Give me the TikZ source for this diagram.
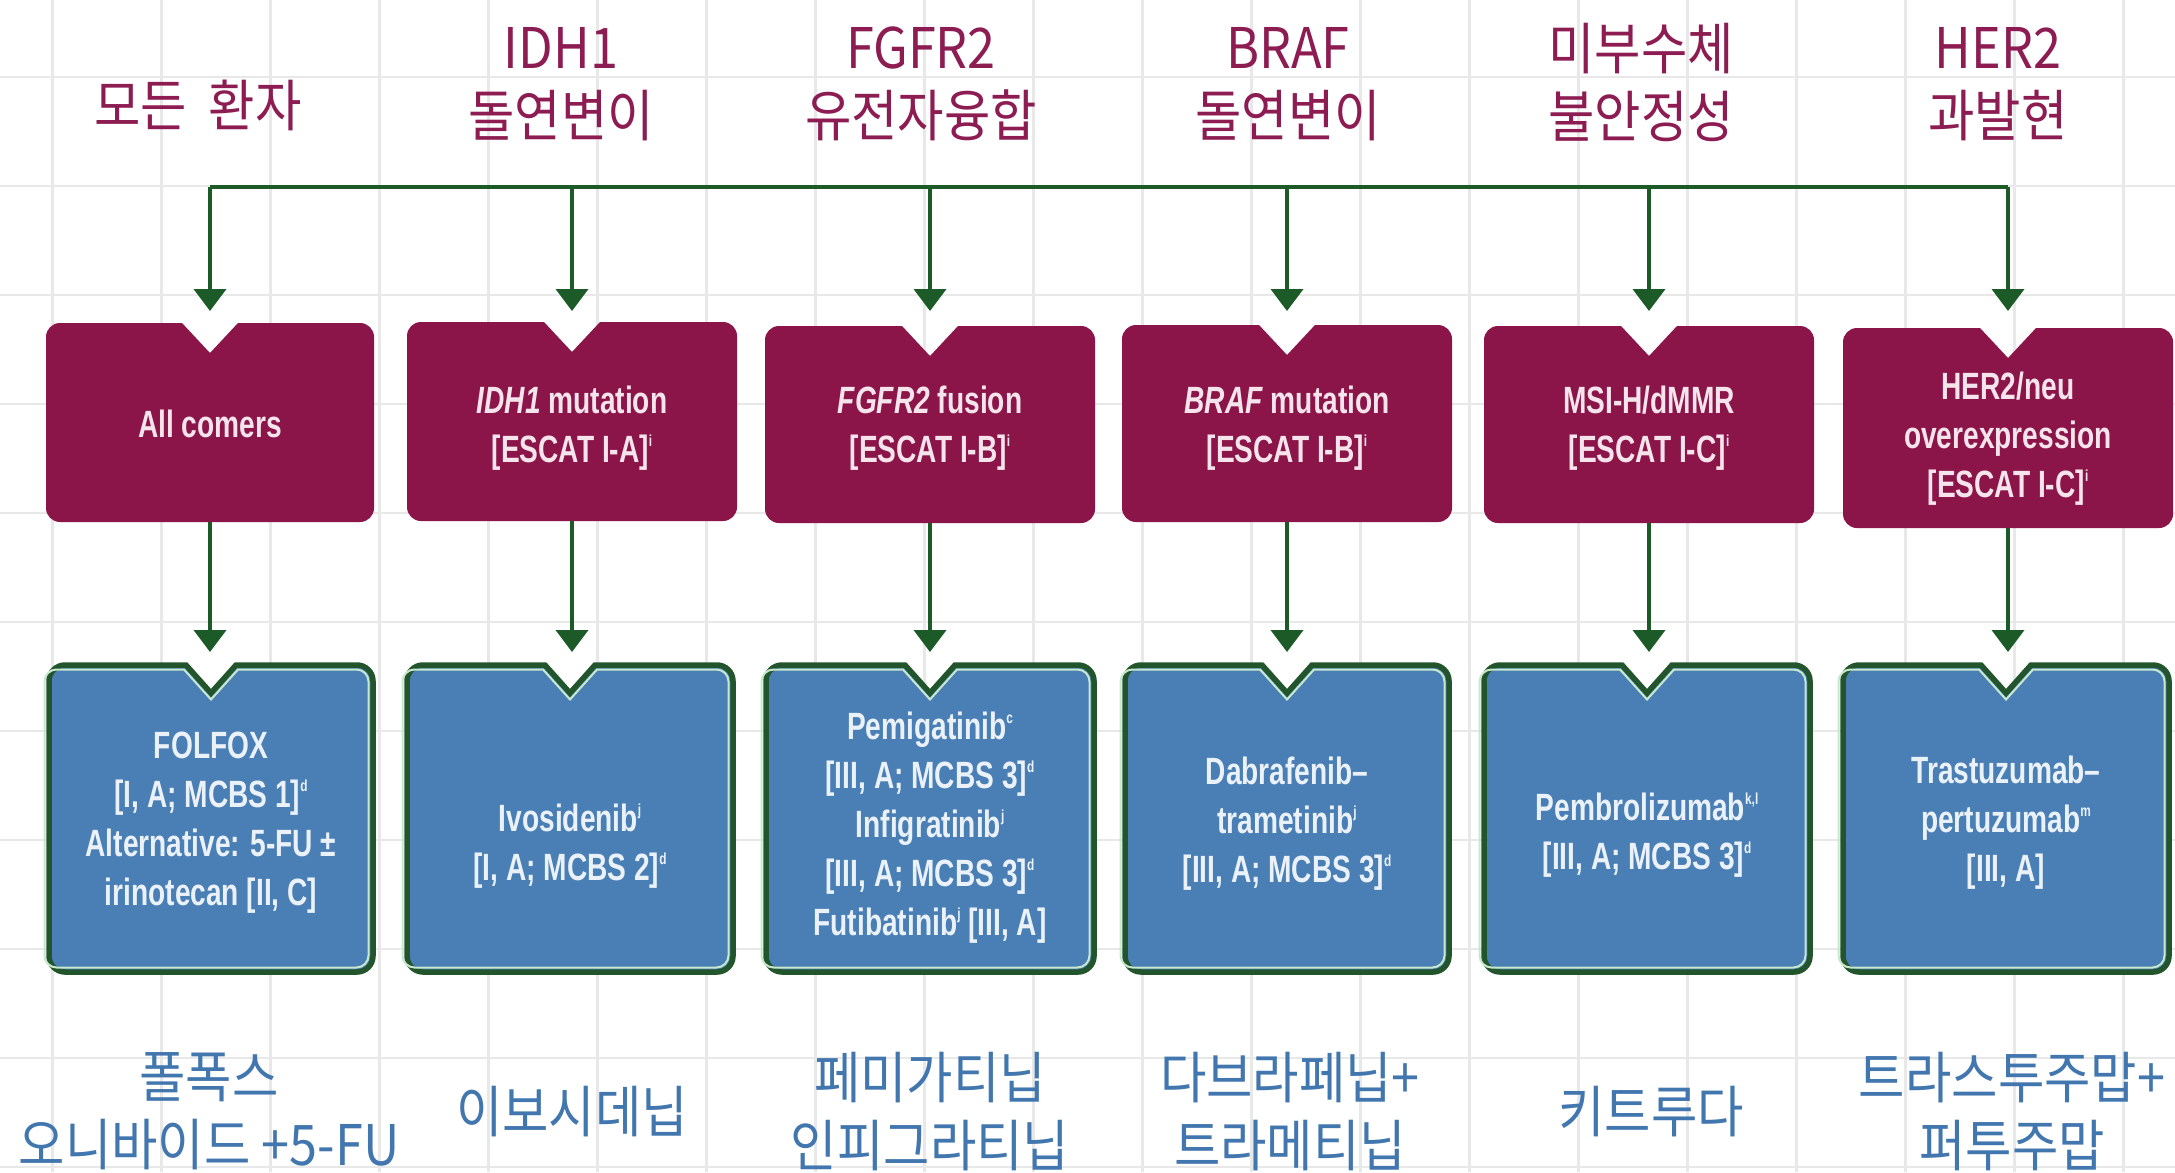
\documentclass[tikz,border=0pt]{standalone}
\usepackage{fontspec}
\setmainfont{Liberation Sans}
\newfontfamily\boxfont[FakeStretch=0.74]{Liberation Sans}
\newfontfamily\krfont[FakeStretch=0.9]{Noto Sans CJK KR}
\usetikzlibrary{arrows.meta}
\definecolor{maroonbox}{RGB}{139,20,72}
\definecolor{bluebox}{RGB}{74,127,181}
\definecolor{bborder}{RGB}{35,85,45}
\definecolor{blight}{RGB}{200,232,205}
\definecolor{conng}{RGB}{28,90,40}
\definecolor{gridc}{RGB}{232,232,232}
\definecolor{toplabc}{RGB}{140,28,82}
\definecolor{botlabc}{RGB}{66,118,174}
\definecolor{mtextc}{RGB}{245,228,236}
\definecolor{btextc}{RGB}{234,241,249}
\newcommand\supx[1]{\raisebox{0.42em}{\fontsize{16}{16}\selectfont #1}}
% #1 options, #2 cx, #3 top, #4 half width, #5 height, #6 notch half width, #7 notch depth, #8 corner radius
\newcommand\notchshape[8][]{%
  \path[#1] ({#2+#6},{-(#3)}) -- ({#2+#4-#8},{-(#3)})
    arc[start angle=90,end angle=0,radius=#8pt]
    -- ({#2+#4},{-(#3+#5-#8)})
    arc[start angle=0,end angle=-90,radius=#8pt]
    -- ({#2-#4+#8},{-(#3+#5)})
    arc[start angle=270,end angle=180,radius=#8pt]
    -- ({#2-#4},{-(#3+#8)})
    arc[start angle=180,end angle=90,radius=#8pt]
    -- ({#2-#6},{-(#3)}) -- ({#2},{-(#3+#7)}) -- cycle;}
\newcommand\bluebox[2]{% cx, half width
  \notchshape[fill=bluebox,draw=bborder,line width=5.5pt]{#1}{665}{#2}{307}{25}{28}{16}
  \notchshape[draw=blight,line width=2pt]{#1}{669.5}{#2-4.5}{298}{27}{30}{12}}
\begin{document}
\begin{tikzpicture}[x=1pt,y=1pt,
  gridline/.style={draw=gridc,line width=2.5pt},
  conn/.style={draw=conng,line width=4pt},
  arr/.style={conn,-{Triangle[width=32pt,length=22pt]}},
  mtext/.style={text=mtextc,inner sep=0pt,align=center,font=\boxfont\bfseries\fontsize{38}{49}\selectfont},
  btext/.style={text=btextc,inner sep=0pt,align=center,font=\boxfont\bfseries\fontsize{38}{49}\selectfont},
  toplab/.style={text=toplabc,inner sep=0pt,align=center,font=\krfont\fontsize{56}{68}\selectfont},
  botlab/.style={text=botlabc,inner sep=0pt,align=center,font=\krfont\fontsize{56}{68}\selectfont}]
\useasboundingbox (0,0) rectangle (2175,-1172);
\fill[white] (0,0) rectangle (2175,-1172);
% background grid
\foreach \i in {0,...,19} {\draw[gridline] ({52.6+109*\i},0) -- ({52.6+109*\i},-1172);}
\foreach \j in {0,...,10} {\draw[gridline] (0,{-77-109*\j}) -- (2175,{-77-109*\j});}

% top labels
\node[toplab] (t1) at (198,-105) {모든\hspace{22pt}환자};
\node[toplab] (t2) at (561,-84) {IDH1\\돌연변이};
\node[toplab] (t3) at (921,-84) {FGFR2\\유전자융합};
\node[toplab] (t4) at (1288,-84) {BRAF\\돌연변이};
\node[toplab] (t5) at (1641,-82) {미부수체\\불안정성};
\node[toplab] (t6) at (1998,-84) {HER2\\과발현};

% maroon boxes
\notchshape[fill=maroonbox]{210}{323}{164}{199}{28}{30}{14}
\notchshape[fill=maroonbox]{572}{322}{165}{199}{28}{30}{14}
\notchshape[fill=maroonbox]{930}{326}{165}{197}{28}{30}{14}
\notchshape[fill=maroonbox]{1287}{325}{165}{197}{28}{30}{14}
\notchshape[fill=maroonbox]{1649}{326}{165}{197}{28}{30}{14}
\notchshape[fill=maroonbox]{2008}{328}{165}{200}{28}{30}{14}

% blue boxes
\bluebox{211}{162}
\bluebox{570}{163}
\bluebox{930}{164}
\bluebox{1287}{162}
\bluebox{1647}{163}
\bluebox{2006}{163}

% connector anchors
\foreach \n/\x/\mb in {1/210/522,2/572/521,3/930/523,4/1287/522,5/1649/523,6/2008/528} {
  \coordinate (bus\n) at (\x,-187);
  \coordinate (m\n in) at (\x,-311);
  \coordinate (m\n out) at (\x,-\mb);
  \coordinate (b\n in) at (\x,-652);
}
\draw[conn] (bus1) -- (bus6);
\foreach \n in {1,...,6} {
  \draw[arr] (bus\n) -- (m\n in);
  \draw[arr] (m\n out) -- (b\n in);
}

% maroon box texts
\node[mtext] (m1) at (210,-424) {All comers};
\node[mtext] (m2) at (572,-428) {\textit{IDH1} mutation\\{}[ESCAT I-A]\supx{i}};
\node[mtext] (m3) at (930,-428) {\textit{FGFR2} fusion\\{}[ESCAT I-B]\supx{i}};
\node[mtext] (m4) at (1287,-428) {\textit{BRAF} mutation\\{}[ESCAT I-B]\supx{i}};
\node[mtext] (m5) at (1649,-428) {MSI-H/dMMR\\{}[ESCAT I-C]\supx{i}};
\node[mtext] (m6) at (2008,-439) {HER2/neu\\overexpression\\{}[ESCAT I-C]\supx{i}};

% blue box texts
\node[btext] (b1) at (211,-823) {FOLFOX\\{}[I, A; MCBS 1]\supx{d}\\Alternative: 5-FU ±\\irinotecan [II, C]};
\node[btext] (b2) at (570,-846) {Ivosidenib\supx{j}\\{}[I, A; MCBS 2]\supx{d}};
\node[btext] (b3) at (930,-828) {Pemigatinib\supx{c}\\{}[III, A; MCBS 3]\supx{d}\\Infigratinib\supx{j}\\{}[III, A; MCBS 3]\supx{d}\\Futibatinib\supx{j} [III, A]};
\node[btext] (b4) at (1287,-824) {Dabrafenib–\\trametinib\supx{j}\\{}[III, A; MCBS 3]\supx{d}};
\node[btext] (b5) at (1647,-835) {Pembrolizumab\supx{k,l}\\{}[III, A; MCBS 3]\supx{d}};
\node[btext] (b6) at (2006,-823) {Trastuzumab–\\pertuzumab\supx{m}\\{}[III, A]};

% bottom labels
\node[botlab] (l1) at (209,-1111) {폴폭스\\오니바이드 +5-FU};
\node[botlab] (l2) at (572,-1112) {이보시데닙};
\node[botlab] (l3) at (930,-1112) {페미가티닙\\인피그라티닙};
\node[botlab] (l4) at (1290,-1112) {다브라페닙+\\트라메티닙};
\node[botlab] (l5) at (1651,-1112) {키트루다};
\node[botlab] (l6) at (2012,-1112) {트라스투주맙+\\퍼투주맙};
\end{tikzpicture}
\end{document}
